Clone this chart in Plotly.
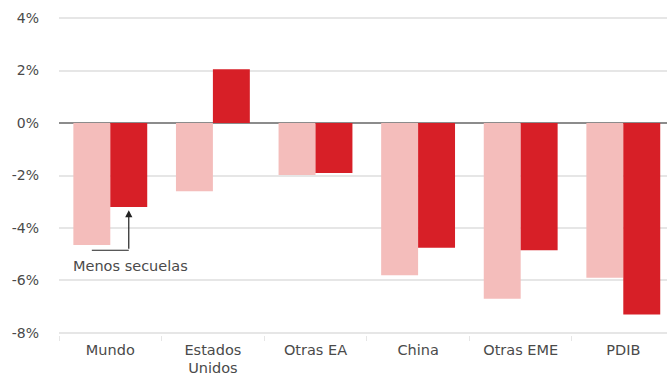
import plotly.graph_objects as go

# Regions and the two scenarios (percent)
categories = ["Mundo", "Estados<br>Unidos", "Otras EA", "China", "Otras EME", "PDIB"]
scenario_light = [-4.65, -2.6, -1.98, -5.8, -6.7, -5.9]
scenario_dark = [-3.2, 2.05, -1.9, -4.75, -4.85, -7.3]
ytick_vals = [4, 2, 0, -2, -4, -6, -8]
ytick_text = ["4%", "2%", "0%", "-2%", "-4%", "-6%", "-8%"]

light_color = "#F4BDBB"
dark_color = "#D71F27"
text_color = "#4A4A4A"
grid_color = "#E6E6E6"
font_family = "'DejaVu Sans', sans-serif"

fig = go.Figure()
fig.add_trace(go.Bar(x=categories, y=scenario_light, marker_color=light_color,
                     marker_line_width=0, showlegend=False))
fig.add_trace(go.Bar(x=categories, y=scenario_dark, marker_color=dark_color,
                     marker_line_width=0, showlegend=False))

# Elbow connector pointing to the Mundo dark bar
fig.add_shape(type="line", xref="x", yref="y", x0=-0.18, y0=-4.85, x1=0.18, y1=-4.85,
              line=dict(color="#222222", width=1.2))
fig.add_annotation(x=0.18, y=-3.32, ax=0.18, ay=-4.85, xref="x", yref="y",
                   axref="x", ayref="y", text="", showarrow=True,
                   arrowhead=2, arrowsize=1.2, arrowwidth=1.2, arrowcolor="#222222")
fig.add_annotation(x=0.2, y=-5.45, xref="x", yref="y", text="Menos secuelas",
                   showarrow=False, font=dict(size=14.5, color=text_color, family=font_family))

fig.update_layout(
    width=667, height=378,
    margin=dict(l=59, r=0, t=16, b=43),
    paper_bgcolor="white", plot_bgcolor="white",
    barmode="group", bargap=0.28, bargroupgap=0,
    font=dict(family=font_family, size=14, color=text_color),
    xaxis=dict(type="category", range=[-0.5, 5.426], showgrid=False, zeroline=False,
               showline=False, ticks="outside", tickson="boundaries", ticklen=5,
               tickcolor=grid_color, ticklabelstandoff=4,
               tickfont=dict(size=14.5, color=text_color)),
    yaxis=dict(range=[-8.08, 4.08], tickvals=ytick_vals, ticktext=ytick_text,
               showgrid=True, gridcolor=grid_color, gridwidth=1.5,
               zeroline=True, zerolinecolor="#8C8C8C", zerolinewidth=1.5,
               showline=False, ticks="", ticklabelstandoff=19,
               tickfont=dict(size=14, color=text_color)),
)

fig.write_html("out.html")
